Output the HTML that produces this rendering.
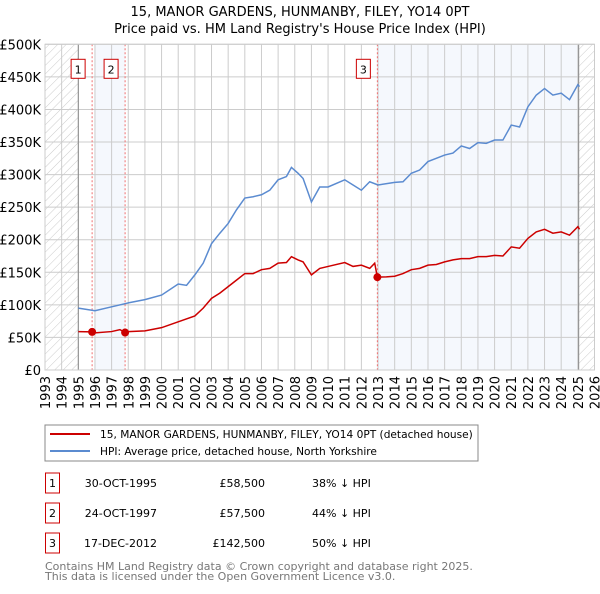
<!DOCTYPE html>
<html><head><meta charset="utf-8"><style>
body{margin:0;background:#fff;font-family:"DejaVu Sans","Liberation Sans",sans-serif;}
svg text{font-family:"DejaVu Sans","Liberation Sans",sans-serif;}
</style></head><body>
<svg id="chart" width="600" height="590" xmlns="http://www.w3.org/2000/svg">
<defs><pattern id="hatch" width="6" height="6" patternUnits="userSpaceOnUse" patternTransform="rotate(45)"><line x1="0" y1="0" x2="0" y2="6" stroke="#ccc" stroke-width="1"/></pattern></defs>
<text x="300" y="16" text-anchor="middle" font-size="13">15, MANOR GARDENS, HUNMANBY, FILEY, YO14 0PT</text>
<text x="300" y="33" text-anchor="middle" font-size="13">Price paid vs. HM Land Registry's House Price Index (HPI)</text>
<g id="plot"></g>
<rect x="45" y="425" width="433" height="36" fill="#fff" stroke="#888"/>
<line x1="50" y1="434" x2="90" y2="434" stroke="#cc0000" stroke-width="2"/>
<text x="100" y="438" font-size="10.6">15, MANOR GARDENS, HUNMANBY, FILEY, YO14 0PT (detached house)</text>
<line x1="50" y1="451" x2="90" y2="451" stroke="#5b8bd0" stroke-width="2"/>
<text x="100" y="455" font-size="10.6">HPI: Average price, detached house, North Yorkshire</text>
<g id="table" font-size="11"></g>
<text x="45" y="570" font-size="11" fill="#777">Contains HM Land Registry data © Crown copyright and database right 2025.</text>
<text x="45" y="580" font-size="11" fill="#777">This data is licensed under the Open Government Licence v3.0.</text>
</svg>
<script>
const hpiYears=[1995,1996,1997,1998,1999,2000,2001,2001.5,2002,2002.5,2003,2003.5,2004,2004.5,2005,2005.5,2006,2006.5,2007,2007.5,2007.8,2008.2,2008.5,2009,2009.5,2010,2011,2011.5,2012,2012.5,2013,2014,2014.5,2015,2015.5,2016,2016.5,2017,2017.5,2018,2018.5,2019,2019.5,2020,2020.5,2021,2021.5,2022,2022.5,2023,2023.5,2024,2024.5,2025,2025.1];
const hpiValues=[95,91,97,103,108,115,132,130,146,164,194,210,225,246,264,266,269,276,292,297,311,302,294,258,281,281,292,284,276,289,284,288,289,302,307,320,325,330,333,344,340,349,348,353,353,376,373,404,422,432,422,425,415,438,435];
const priceYears=[1995,1995.83,1996,1997,1997.5,1997.81,1998,1999,2000,2001,2002,2002.5,2003,2003.5,2004,2004.5,2005,2005.5,2006,2006.5,2007,2007.5,2007.8,2008.2,2008.5,2009,2009.5,2010,2011,2011.5,2012,2012.5,2012.8,2012.96,2013.5,2014,2014.5,2015,2015.5,2016,2016.5,2017,2017.5,2018,2018.5,2019,2019.5,2020,2020.5,2021,2021.5,2022,2022.5,2023,2023.5,2024,2024.5,2025,2025.1];
const priceValues=[59,58.5,57,59,62,57.5,59,60,65,74,83,95,110,118,128,138,148,148,154,156,164,165,174,169,166,146,156,159,165,159,161,156,164,142.5,143,144,148,154,156,161,162,166,169,171,171,174,174,176,175,189,187,202,212,216,210,212,207,220,216];
const saleLabels=["1","2","3"];
const saleYears=[1995.83,1997.81,2012.96];
const saleValues=[58.5,57.5,142.5];
const saleDates=["30-OCT-1995","24-OCT-1997","17-DEC-2012"];
const salePrices=["£58,500","£57,500","£142,500"];
const salePct=["38% ↓ HPI","44% ↓ HPI","50% ↓ HPI"];
const yTicks=[0,50,100,150,200,250,300,350,400,450,500];
const yTickLabels=["£0","£50K","£100K","£150K","£200K","£250K","£300K","£350K","£400K","£450K","£500K"];
const xTicks=[1993,1994,1995,1996,1997,1998,1999,2000,2001,2002,2003,2004,2005,2006,2007,2008,2009,2010,2011,2012,2013,2014,2015,2016,2017,2018,2019,2020,2021,2022,2023,2024,2025,2026];

const L=45,R=594.5,T=44.3,B=370;
const xs=y=>L+(y-1993)*(R-L)/33;
const ys=v=>B-v*(B-T)/500;
const NS="http://www.w3.org/2000/svg";
const plot=document.getElementById('plot');
function mk(tag,attrs,parent){const e=document.createElementNS(NS,tag);for(const k in attrs)e.setAttribute(k,attrs[k]);(parent||plot).appendChild(e);return e;}
let e;
e=mk('rect',{x:xs(1996),y:T,width:xs(1997.81)-xs(1996),height:B-T,fill:'#eef3fc',opacity:0.6});


e=mk('rect',{x:xs(2012.96),y:T,width:xs(2025.05)-xs(2012.96),height:B-T,fill:'#eef3fc',opacity:0.6});


e=mk('rect',{x:L,y:T,width:xs(1995)-L,height:B-T,fill:'url(#hatch)'});


e=mk('rect',{x:xs(2025.05),y:T,width:R-xs(2025.05),height:B-T,fill:'url(#hatch)'});


yTicks.forEach((v,i)=>{
 e=mk('line',{x1:L,x2:R,y1:ys(v),y2:ys(v),stroke:'#ccc','stroke-width':1});
 
 
 e=mk('text',{x:L-4,y:ys(v)+5,'text-anchor':'end','font-size':13});
 e.textContent=yTickLabels[i];
 
 
});
xTicks.forEach(y=>{
 e=mk('line',{x1:xs(y),x2:xs(y),y1:T,y2:B,stroke:'#ccc','stroke-width':1});
 
 
 e=mk('text',{x:0,y:0,'text-anchor':'end','font-size':13,transform:`translate(${xs(y)+5},${B+6}) rotate(-90)`});
 e.textContent=y;
 
 
});
e=mk('line',{x1:xs(1995),x2:xs(1995),y1:T,y2:B,stroke:'#888','stroke-width':1});


e=mk('line',{x1:xs(2025.05),x2:xs(2025.05),y1:T,y2:B,stroke:'#888','stroke-width':1});


saleYears.forEach((y,i)=>{
 e=mk('line',{x1:xs(y),x2:xs(y),y1:T,y2:B,stroke:'#f07070','stroke-width':1,'stroke-dasharray':'2,2'});
 
 
});
e=mk('polyline',{points:hpiYears.map((y,i)=>xs(y)+','+ys(hpiValues[i])).join(' '),fill:'none',stroke:'#5b8bd0','stroke-width':1.5});


e=mk('polyline',{points:priceYears.map((y,i)=>xs(y)+','+ys(priceValues[i])).join(' '),fill:'none',stroke:'#cc0000','stroke-width':1.5});


saleYears.forEach((y,i)=>{
 e=mk('circle',{cx:xs(y),cy:ys(saleValues[i]),r:4,fill:'#cc0000'});
 
 
 e=mk('rect',{x:xs(y)-21,y:T+15,width:14,height:19,fill:'#fff',stroke:'#cc0000'});
 
 
 e=mk('text',{x:xs(y)-14,y:T+29,'text-anchor':'middle','font-size':11});
 e.textContent=saleLabels[i];
 
 
});
e=mk('rect',{x:L,y:T,width:R-L,height:B-T,fill:'none',stroke:'#ccc'});


const tb=document.getElementById('table');
saleLabels.forEach((s,i)=>{
 const cy=483+i*30;
 e=mk('rect',{x:45.5,y:cy-10,width:14,height:20,fill:'#fff',stroke:'#cc0000'},tb);
 
 
 e=mk('text',{x:52.5,y:cy+4,'text-anchor':'middle'},tb);e.textContent=s;
 
 
 e=mk('text',{x:157,y:cy+4,'text-anchor':'end'},tb);e.textContent=saleDates[i];
 
 
 e=mk('text',{x:265,y:cy+4,'text-anchor':'end'},tb);e.textContent=salePrices[i];
 
 
 e=mk('text',{x:312,y:cy+4},tb);e.textContent=salePct[i];
 
 
});
</script>
</body></html>
